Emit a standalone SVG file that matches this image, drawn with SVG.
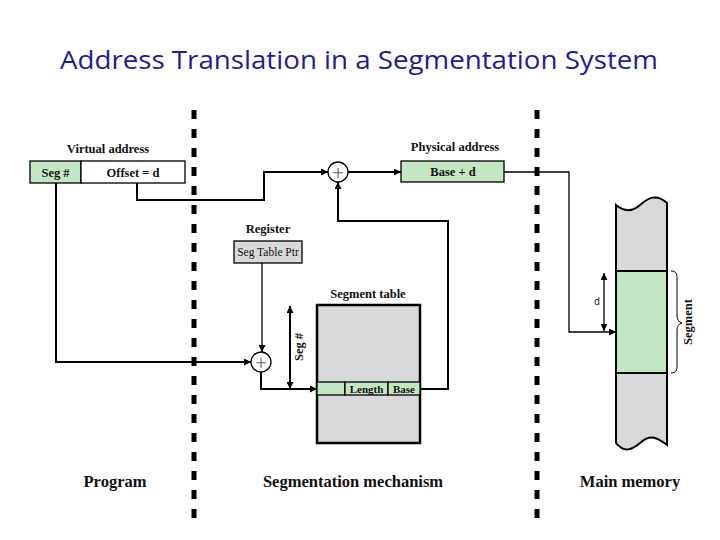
<svg xmlns="http://www.w3.org/2000/svg" width="720" height="540" viewBox="0 0 720 540">
<defs>
<marker id="ah" viewBox="0 0 10 10" refX="10" refY="5" markerWidth="8" markerHeight="7" markerUnits="userSpaceOnUse" orient="auto-start-reverse">
<path d="M0,0 L10,5 L0,10 Z" fill="#000"/>
</marker>
</defs>
<style>
.lbl{font-family:"Liberation Serif","Times New Roman",serif;font-weight:bold;fill:#111}
.t12{font-size:12.5px}
.t11{font-size:11px}
.t16{font-size:16.5px}
.reg{font-family:"Liberation Serif","Times New Roman",serif;font-size:11.5px;fill:#111}
.cn{fill:none;stroke:#000;stroke-width:2}
.cnt{fill:none;stroke:#000;stroke-width:1.3}
.grn{fill:#c3e6c3;stroke:#000;stroke-width:1.3}
.gry{fill:#d9d9d9;stroke:#000;stroke-width:1.3}
.div{stroke:#000;stroke-width:5;stroke-dasharray:9 10;fill:none}
.sum{fill:#fff;stroke:#000;stroke-width:1.3}
.plus{font-family:"DejaVu Sans",sans-serif;font-size:15px;fill:#777}
</style>
<rect width="720" height="540" fill="#fff"/>
<text x="359" y="69" text-anchor="middle" font-family="Open Sans, 'Liberation Sans', sans-serif" font-size="26" fill="#1c1c9c" textLength="598" lengthAdjust="spacingAndGlyphs">Address Translation in a Segmentation System</text>

<g id="dividers">
<line class="div" x1="194" y1="110" x2="194" y2="522"/>
<line class="div" x1="537" y1="110" x2="537" y2="522"/>
</g>

<g id="virtual-address">
<text class="lbl t12" x="108" y="153" text-anchor="middle">Virtual address</text>
<rect class="grn" x="30" y="161" width="51" height="22"/>
<rect x="81" y="161" width="104" height="22" fill="#fff" stroke="#000" stroke-width="1.3"/>
<text class="lbl t12" x="55.5" y="176.5" text-anchor="middle">Seg #</text>
<text class="lbl t12" x="133" y="176.5" text-anchor="middle">Offset = d</text>
</g>

<g id="physical-address">
<text class="lbl t12" x="455" y="151" text-anchor="middle">Physical address</text>
<rect class="grn" x="401" y="161" width="103" height="21"/>
<text class="lbl t12" x="453" y="175.5" text-anchor="middle">Base + d</text>
</g>

<g id="adder-top">
<circle class="sum" cx="338" cy="172" r="10"/>
<text class="plus" x="338" y="177.5" text-anchor="middle">+</text>
</g>

<g id="register">
<text class="lbl t12" x="268" y="233" text-anchor="middle">Register</text>
<rect class="gry" x="234" y="241" width="68" height="22"/>
<text class="reg" x="268" y="256" text-anchor="middle">Seg Table Ptr</text>
</g>

<g id="adder-bottom">
<circle class="sum" cx="261" cy="362" r="10"/>
<text class="plus" x="261" y="367.5" text-anchor="middle">+</text>
</g>

<g id="segment-table">
<text class="lbl t12" x="368" y="298" text-anchor="middle">Segment table</text>
<rect x="317" y="305" width="103" height="138" fill="#d9d9d9" stroke="#000" stroke-width="2.5"/>
<rect class="grn" x="317" y="382" width="28" height="13"/>
<rect class="grn" x="345" y="382" width="43" height="13"/>
<rect class="grn" x="388" y="382" width="32" height="13"/>
<text class="lbl t11" x="366.5" y="392.5" text-anchor="middle">Length</text>
<text class="lbl t11" x="404" y="392.5" text-anchor="middle">Base</text>
<text class="lbl t12" x="303" y="347" text-anchor="middle" transform="rotate(-90 303 347)">Seg #</text>
</g>

<g id="main-memory">
<path d="M616,205 C622,210 630,214 640,205 C648,198 656,193 667,203 V445 C660,440 652,432 640,443 C632,450 624,453 616,443 Z" fill="#d9d9d9" stroke="#000" stroke-width="2"/>
<rect x="616" y="271" width="51" height="102" fill="#c3e6c3" stroke="#000" stroke-width="2"/>
<path d="M671,271 C676,271 677,274 677,278 V316 C677,320 679,322 682,323 C679,324 677,326 677,330 V366 C677,370 676,373 671,373" fill="none" stroke="#000" stroke-width="1"/>
<text class="lbl t12" x="692" y="322" text-anchor="middle" transform="rotate(-90 692 322)">Segment</text>
<text x="597" y="305" text-anchor="middle" font-family="'Liberation Sans',Arial,sans-serif" font-size="10" fill="#222">d</text>
</g>

<g id="section-labels">
<text class="lbl t16" x="115" y="487" text-anchor="middle">Program</text>
<text class="lbl t16" x="353" y="487" text-anchor="middle">Segmentation mechanism</text>
<text class="lbl t16" x="630" y="487" text-anchor="middle">Main memory</text>
</g>

<g id="connectors">
<path class="cn" d="M56,183 V362 H251" marker-end="url(#ah)"/>
<path class="cn" d="M137,183 V200 H264 V172 H328" marker-end="url(#ah)"/>
<path class="cn" d="M348,172 H401" marker-end="url(#ah)"/>
<path class="cnt" d="M504,172 H569 V332 H616" marker-end="url(#ah)"/>
<path class="cnt" d="M262,263 V352" marker-end="url(#ah)"/>
<path class="cn" d="M261,372 V389 H317" marker-end="url(#ah)"/>
<path class="cn" d="M290,389 V306" marker-start="url(#ah)" marker-end="url(#ah)"/>
<path class="cn" d="M420,389 H448 V221 H338 V182" marker-end="url(#ah)"/>
<path class="cnt" d="M604,273 V331" marker-start="url(#ah)" marker-end="url(#ah)"/>
</g>
</svg>
